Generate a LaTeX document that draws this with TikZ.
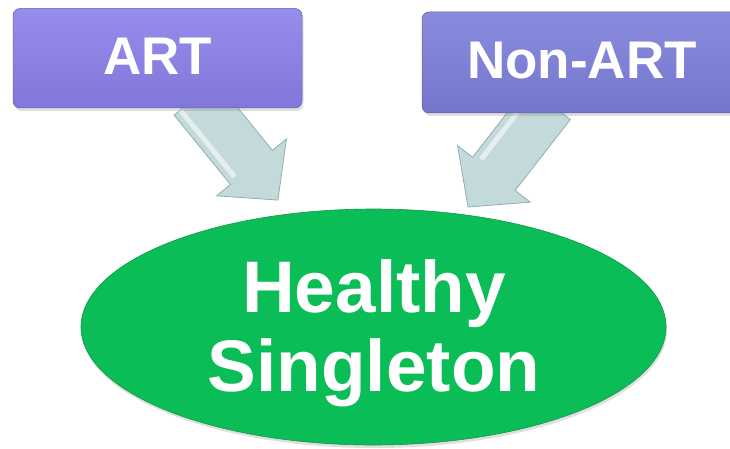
\documentclass[tikz,border=0pt]{standalone}
\usepackage{fontspec}
\setmainfont{Liberation Sans}
\usetikzlibrary{shapes.geometric,shadows}
\definecolor{artfill}{RGB}{139,128,234}
\definecolor{nonfill}{RGB}{124,127,218}
\definecolor{hsfill}{RGB}{10,189,86}
\definecolor{hsdark}{RGB}{20,150,70}
\definecolor{arrfill}{RGB}{196,218,218}
\definecolor{arrline}{RGB}{140,176,176}
\begin{document}
\begin{tikzpicture}[x=1pt,y=1pt,
  purplebox/.style={rectangle, rounded corners=7pt, inner sep=0pt,
    draw=#1!75!black, line width=0.5pt,
    top color=#1!90!white, middle color=#1, bottom color=#1!93!black,
    drop shadow={opacity=0.25, shadow xshift=1.5pt, shadow yshift=-3pt}},
  hsnode/.style={ellipse, inner sep=0pt, fill=hsfill, draw=hsdark, line width=0.6pt,
    drop shadow={opacity=0.25, shadow xshift=1pt, shadow yshift=-3pt}},
  boxtext/.style={text=white, inner sep=0pt, font=\fontsize{53}{60}\selectfont\bfseries},
  bigtext/.style={text=white, inner sep=0pt, align=center, font=\fontsize{73}{79}\selectfont\bfseries},
  blockarrow/.style={fill=arrfill, draw=arrline, line width=0.8pt, line join=miter},
  shine/.style={draw=white, opacity=0.55, line width=5pt}
]
\useasboundingbox (0,0) rectangle (730,448);
\clip (0,0) rectangle (730,448);
\fill[white] (0,0) rectangle (730,448);

% block arrows
\begin{scope}[shift={(195,350)}, rotate=-50.9]
  \draw[blockarrow] (0,-27) -- (89.5,-27) -- (89.5,-45) -- (131.5,0) -- (89.5,45) -- (89.5,27) -- (0,27) -- cycle;
  \draw[shine] (0,-19) -- (86,-19);
\end{scope}
\begin{scope}[shift={(549,345)}, rotate=-127.9]
  \draw[blockarrow] (0,-27) -- (89.8,-27) -- (89.8,-46) -- (131.8,0) -- (89.8,46) -- (89.8,27) -- (0,27) -- cycle;
  \draw[shine] (0,-19) -- (86,-19);
\end{scope}

% boxes
\node[purplebox=artfill, minimum width=289pt, minimum height=99.5pt] (art) at (157.5,389.75) {};
\node[purplebox=nonfill, minimum width=320pt, minimum height=101pt] (nonart) at (582,385.5) {};
\node[boxtext, anchor=base] (arttxt) at (157.5,373) {ART};
\node[boxtext, anchor=base] (nonarttxt) at (582,369.7) {Non-ART};

% ellipse
\node[hsnode, minimum width=585pt, minimum height=236pt] (hs) at (373.5,121) {};
\node[bigtext, anchor=north] (hstxt) at (374,188.3) {Healthy\\Singleton};
\end{tikzpicture}
\end{document}
